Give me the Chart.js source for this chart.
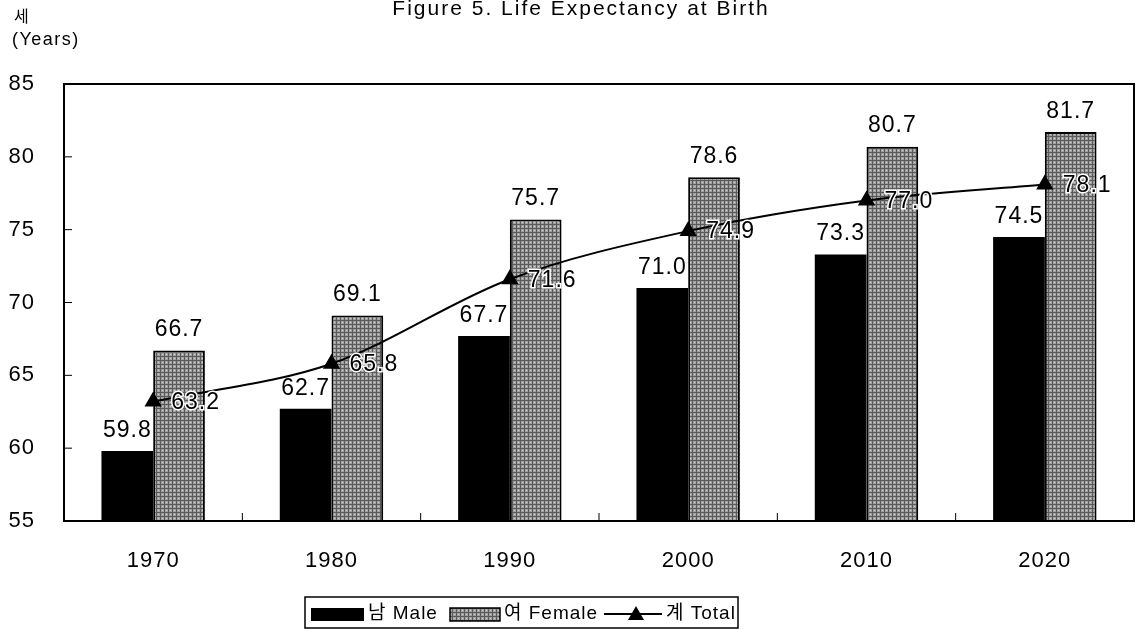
<!DOCTYPE html>
<html>
<head>
<meta charset="utf-8">
<script src="https://cdn.jsdelivr.net/npm/chart.js@4"></script>
<style>
  body { margin:0; background:#fff; }
  #wrap { width:1138px; height:630px; }
</style>
</head>
<body>
<div id="wrap"><canvas id="myCan" width="1138" height="630"></canvas></div>
<script>
var years = ['1970','1980','1990','2000','2010','2020'];
var male = [59.8, 62.7, 67.7, 71.0, 73.3, 74.5];
var female = [66.7, 69.1, 75.7, 78.6, 80.7, 81.7];
var total = [63.2, 65.8, 71.6, 74.9, 77.0, 78.1];
var yTicks = [55, 60, 65, 70, 75, 80, 85];

var FONT = '"Liberation Sans", "Noto Sans CJK KR", Arial, sans-serif';

function greyPattern(){
  var c = document.createElement('canvas');
  c.width = 4; c.height = 4;
  var x = c.getContext('2d');
  x.fillStyle = '#a0a0a0';
  x.fillRect(0,0,4,4);
  x.fillStyle = '#5a5a5a';
  x.fillRect(0,0,1,4);
  x.fillRect(0,0,4,1);
  x.fillStyle = '#d0d0d0';
  x.fillRect(2,2,1,1);
  return x.createPattern(c, 'repeat');
}
var femaleFill = greyPattern();

// wider spacing, like the scanned original font
var spacingPlugin = {
  id: 'spacing',
  beforeDraw: function(chart){ chart.ctx.letterSpacing = '1px'; }
};

// frame, inner ticks, value labels, title, legend
var decoPlugin = {
  id: 'deco',
  afterDatasetsDraw: function(chart){
    var ctx = chart.ctx, a = chart.chartArea;
    var xs = chart.scales.x, ys = chart.scales.y;
    ctx.save();
    ctx.letterSpacing = '1px';
    // frame
    ctx.strokeStyle = '#000';
    ctx.lineWidth = 2;
    ctx.strokeRect(a.left, a.top, a.right - a.left, a.bottom - a.top);
    // inner ticks
    ctx.lineWidth = 1;
    ctx.beginPath();
    yTicks.forEach(function(v){
      var y = ys.getPixelForValue(v);
      ctx.moveTo(a.left, y); ctx.lineTo(a.left + 8, y);
    });
    for (var i = 1; i < years.length; i++) {
      var xx = (xs.getPixelForValue(i - 1) + xs.getPixelForValue(i)) / 2;
      ctx.moveTo(xx, a.bottom); ctx.lineTo(xx, a.bottom - 8);
    }
    ctx.stroke();

    // bar labels
    ctx.font = '23px ' + FONT;
    ctx.fillStyle = '#000';
    ctx.textAlign = 'center';
    ctx.textBaseline = 'bottom';
    [0, 1].forEach(function(di){
      var meta = chart.getDatasetMeta(di);
      meta.data.forEach(function(el, i){
        ctx.fillText(chart.data.datasets[di].data[i].toFixed(1), el.x, el.y - 9);
      });
    });
    // total labels
    ctx.textAlign = 'left';
    ctx.textBaseline = 'middle';
    var lm = chart.getDatasetMeta(2);
    lm.data.forEach(function(el, i){
      var t = total[i].toFixed(1);
      ctx.lineWidth = 3;
      ctx.strokeStyle = '#fff';
      ctx.strokeText(t, el.x + 18, el.y + 1);
      ctx.fillText(t, el.x + 18, el.y + 1);
    });

    // title and unit
    ctx.textAlign = 'center';
    ctx.textBaseline = 'alphabetic';
    ctx.letterSpacing = '2px';
    ctx.font = '21px ' + FONT;
    ctx.fillText('Figure 5. Life Expectancy at Birth', 581, 15);
    ctx.textAlign = 'left';
    ctx.letterSpacing = '1px';
    ctx.font = '16px ' + FONT;
    ctx.fillText('세', 14, 22);
    ctx.letterSpacing = '1.5px';
    ctx.font = '18px ' + FONT;
    ctx.fillText('(Years)', 12, 45);

    // legend
    ctx.lineWidth = 1.5;
    ctx.strokeStyle = '#000';
    ctx.strokeRect(305, 597, 433, 31);
    ctx.fillStyle = '#000';
    ctx.fillRect(311, 608, 53, 13);
    ctx.fillStyle = femaleFill;
    ctx.fillRect(450, 608, 50, 13);
    ctx.strokeRect(450, 608, 50, 13);
    ctx.beginPath();
    ctx.lineWidth = 2;
    ctx.moveTo(604, 614); ctx.lineTo(662, 614);
    ctx.stroke();
    ctx.beginPath();
    ctx.moveTo(636, 606); ctx.lineTo(644, 620); ctx.lineTo(628, 620); ctx.closePath();
    ctx.fillStyle = '#000';
    ctx.fill();
    ctx.font = '19px ' + FONT;
    ctx.letterSpacing = '1px';
    ctx.textBaseline = 'middle';
    ctx.fillText('남 Male', 368, 614);
    ctx.fillText('여 Female', 504, 614);
    ctx.fillText('계 Total', 666, 614);
    ctx.restore();
  }
};

var ctxx = document.getElementById('myCan').getContext('2d');
var xChart = new Chart(ctxx, {
  data: {
    labels: years,
    datasets: [
      { type:'bar', label:'남 Male', data: male, backgroundColor:'#000', borderWidth:0,
        order: 2, barPercentage: 1.0, categoryPercentage: 0.58 },
      { type:'bar', label:'여 Female', data: female, backgroundColor: femaleFill,
        borderColor:'#000', borderWidth:2, borderSkipped:'bottom',
        order: 2, barPercentage: 1.0, categoryPercentage: 0.58 },
      { type:'line', label:'계 Total', data: total, borderColor:'#000', borderWidth:2,
        tension:0.4, cubicInterpolationMode:'monotone',
        pointStyle:'triangle', pointRadius:8, pointBackgroundColor:'#000', pointBorderColor:'#000',
        order: 0 }
    ]
  },
  options: {
    responsive: false,
    animation: false,
    layout: { autoPadding: false, padding: { top: 84, right: 4, left: 0, bottom: 0 } },
    plugins: { legend: { display:false }, title: { display:false }, tooltip: { enabled:false } },
    scales: {
      x: {
        grid: { display:false, drawTicks:false },
        border: { display:false },
        ticks: { color:'#000', padding: 27, font: { size: 22, family: FONT } },
        afterFit: function(s){ s.height = 109; s.paddingLeft = 0; s.paddingRight = 0; }
      },
      y: {
        min: 55, max: 85,
        grid: { display:false, drawTicks:false },
        border: { display:false },
        ticks: { stepSize: 5, color:'#000', padding: 29, font: { size: 22, family: FONT } },
        afterFit: function(s){ s.width = 64; }
      }
    }
  },
  plugins: [spacingPlugin, decoPlugin]
});
</script>
</body>
</html>
